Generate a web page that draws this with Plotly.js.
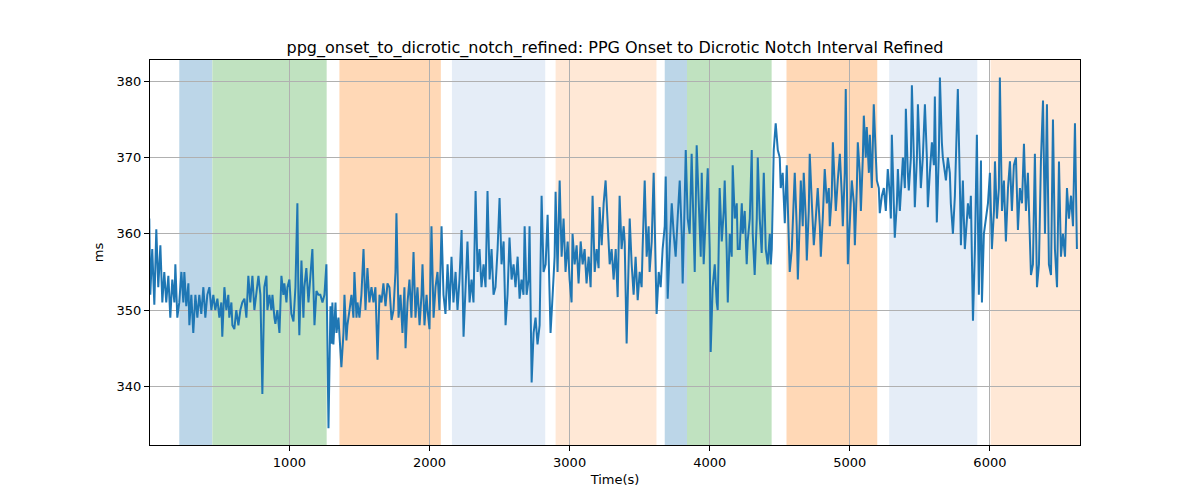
<!DOCTYPE html>
<html>
<head>
<meta charset="utf-8">
<script src="https://cdn.plot.ly/plotly-3.0.1.min.js"></script>
<style>
  html, body { margin: 0; padding: 0; background: #fff; }
  #chart { width: 1200px; height: 500px; }
</style>
</head>
<body>
<div id="chart"></div>
<script>
// Sample times (s)
const time = [
    0, 7, 21, 36, 50, 64, 79, 93, 107, 121, 136, 150, 164, 179, 186, 200, 214, 229, 243, 250,
    264, 279, 286, 300, 314, 329, 343, 357, 371, 386, 400, 414, 429, 443, 457, 471, 486, 500, 514, 521,
    536, 550, 564, 571, 586, 593, 607, 621, 636, 650, 664, 679, 693, 707, 721, 736, 750, 764, 779, 793,
    807, 821, 836, 843,
    857, 871, 879, 893, 900, 914, 929, 943, 957, 964, 979, 986, 1000, 1014, 1029, 1043, 1057, 1064, 1071, 1086,
    1100, 1107, 1121, 1136, 1150, 1164, 1179, 1193, 1207, 1221, 1236, 1250, 1264, 1271, 1279, 1293, 1300, 1307, 1314, 1329,
    1336, 1350, 1364, 1371, 1386, 1393, 1407, 1414, 1429, 1443, 1457, 1464, 1479, 1486, 1500, 1514, 1529, 1543, 1557, 1571,
    1586, 1600, 1614, 1629, 1643, 1657, 1671, 1686, 1700,
    1714, 1729, 1743, 1757, 1764, 1779, 1793, 1807, 1821, 1829, 1843, 1857, 1871, 1886, 1900, 1914, 1929, 1943, 1950, 1964,
    1979, 1986, 2000, 2014, 2029, 2043, 2057, 2071, 2086, 2100, 2114, 2129, 2143, 2157, 2171, 2186, 2200, 2214, 2229, 2243,
    2257, 2271, 2286, 2300, 2314, 2329, 2343, 2357, 2371, 2386, 2400, 2414, 2429, 2443, 2457, 2471, 2486, 2500, 2514, 2529,
    2543, 2557,
    2571, 2586, 2600, 2614, 2629, 2643, 2657, 2671, 2679, 2693, 2707, 2714, 2729, 2743, 2757, 2771, 2786, 2800, 2814, 2829,
    2843, 2857, 2864, 2879, 2893, 2900, 2914, 2929, 2943, 2957, 2971, 2986, 3000, 3014, 3021, 3036, 3050, 3064, 3079, 3093,
    3107, 3121, 3136, 3150, 3164, 3179, 3193, 3207, 3214, 3229, 3243, 3257, 3271, 3286, 3300, 3314, 3329, 3343, 3357, 3371,
    3386, 3393, 3407, 3421,
    3429, 3443, 3457, 3471, 3486, 3500, 3514, 3521, 3536, 3550, 3564, 3571, 3586, 3600, 3614, 3621, 3636, 3650, 3664, 3679,
    3686, 3700, 3714, 3729, 3743, 3757, 3771, 3786, 3800, 3807, 3821, 3829, 3843, 3857, 3871, 3886, 3893, 3907, 3921, 3936,
    3943, 3957, 3971, 3986, 4000, 4007, 4021, 4036, 4050, 4057, 4071, 4086, 4100, 4107, 4121, 4129, 4143, 4157, 4164, 4179,
    4193, 4200, 4214, 4229, 4236, 4250, 4264, 4271,
    4286, 4300, 4307, 4321, 4336, 4343, 4357, 4371, 4386, 4400, 4414, 4429, 4436, 4443, 4457, 4471, 4486, 4500, 4507, 4521,
    4536, 4550, 4557, 4571, 4586, 4593, 4607, 4621, 4629, 4643, 4650, 4664, 4671, 4686, 4693, 4707, 4714, 4729, 4743, 4757,
    4771, 4786, 4793, 4807, 4821, 4836, 4850, 4857, 4871, 4879, 4893, 4900, 4914, 4929, 4943, 4950, 4964, 4971, 4986, 5000,
    5014, 5029, 5036, 5050, 5057, 5071, 5079, 5093, 5100, 5114, 5121, 5136, 5143,
    5157, 5171, 5186, 5193, 5207, 5214, 5229, 5243, 5257, 5271, 5286, 5293, 5300, 5314, 5321, 5336, 5343, 5357, 5371, 5379,
    5393, 5400, 5414, 5421, 5436, 5443, 5457, 5464, 5479, 5486, 5500, 5507, 5521, 5536, 5550, 5557, 5571, 5586, 5600, 5607,
    5614, 5621, 5636, 5643, 5657, 5664, 5679, 5686, 5700, 5714, 5721, 5736, 5750, 5757, 5764, 5771, 5786, 5793, 5800, 5807,
    5814, 5821, 5836, 5843, 5857, 5864, 5879, 5893, 5907, 5921, 5936, 5943, 5957, 5971, 5986, 6000,
    6014, 6029, 6036, 6050, 6064, 6071, 6086, 6100, 6114, 6129, 6143, 6157, 6171, 6186, 6200, 6214, 6229, 6243, 6257, 6271,
    6293, 6307, 6321, 6336, 6350, 6364, 6379, 6393, 6407, 6421, 6436, 6450, 6464, 6479, 6493, 6507, 6521, 6536, 6550, 6564,
    6579, 6593, 6607, 6621
];

// Onset to dicrotic notch interval (ms)
const interval = [
    362, 352, 358, 350.7, 360.6, 353, 358.5, 351, 355, 351, 354.5, 349, 354, 351, 356, 349, 351, 355, 351, 355,
    350.5, 353.5, 348, 352, 347, 352, 349, 352, 349.5, 353, 349, 352, 353, 350, 352, 350, 351.5, 349, 351, 346.5,
    353, 350, 352, 349, 351, 348, 347.5, 350, 348, 350, 351, 351.5, 349, 354.5, 351, 354.5, 350, 352, 354.5, 352,
    339, 353, 354.5, 350,
    352, 350, 352, 349, 348.2, 350, 347, 354.5, 352, 353.5, 351, 353, 354, 349.5, 348.5, 353, 364, 352, 346.7, 356.5,
    349, 353, 355.5, 351, 355, 358, 348, 352.5, 352, 352, 351, 352, 356, 346, 334.5, 350.5, 345.6, 351, 345.5, 351,
    347, 349, 345, 342.5, 347, 352, 346, 348, 350, 352, 349, 355, 349, 351, 349, 352, 358, 350, 355.5, 351,
    353, 351, 353, 343.5, 352, 351, 353.5, 350.5, 353.5,
    353, 348.7, 350, 355, 362.7, 349, 352, 347, 353, 345, 351, 354, 349, 357.6, 349, 353, 348, 352, 356, 348,
    352, 350, 347.5, 361, 349, 353, 355, 350, 361, 352, 349.5, 356, 350, 357, 351, 355, 350, 354, 360.5, 346.5,
    352, 359, 351, 354, 351, 365.6, 355, 358, 353, 356, 353, 365.6, 354, 358, 352, 353, 358, 364.7, 356, 359,
    348, 352,
    359.5, 354, 356, 353, 357, 351.5, 354, 352, 361, 352, 354, 361, 340.5, 347, 349, 345.5, 348, 365, 355, 356,
    362.5, 354, 347, 352, 357, 365.5, 355, 367, 357, 362, 355, 359, 354, 351, 360, 356, 358.5, 353.5, 359, 356,
    358, 353.5, 357, 353, 365, 355, 358, 355.5, 363.5, 358.5, 364, 367, 362, 356, 358, 354, 358, 351.7, 365, 358,
    361, 359, 345.6, 355,
    362, 356, 352, 357, 351.3, 355, 353, 358, 367, 357, 361, 355, 359, 368, 356, 349.5, 355, 353, 358, 361,
    367.5, 351.5, 358, 364, 360, 357, 362, 367, 360, 353.5, 364, 371, 362, 360, 370.5, 362, 355, 371.6, 364, 357,
    368, 356, 362, 368.6, 358, 344.5, 353, 356, 351, 350, 366, 359, 363, 367, 358, 351, 360, 357, 369, 362,
    364, 358, 358, 364, 360, 363, 356, 359,
    362, 371, 360, 354.6, 362, 370, 362, 357.5, 368, 358, 356, 360, 356, 358, 371, 374.5, 371, 370, 366, 368,
    361.4, 369, 364, 355, 358, 362, 368, 361, 354, 362, 367, 361, 368, 362, 356.5, 363, 370.5, 364, 358.5, 362,
    366, 361, 357, 362, 368.5, 364, 366, 361, 365, 372, 366, 363, 367, 370.5, 365, 361, 368, 379, 356, 362,
    367, 364, 358.5, 366, 372, 368, 363, 370, 375.5, 370, 374, 368, 373,
    366, 377, 370, 367, 366, 362.7, 365, 366, 363, 368.5, 365, 362, 373, 365, 359.5, 364, 368.5, 363, 367, 370,
    366, 376.4, 368, 365.7, 370, 379.5, 370, 363.5, 370, 377, 370, 366, 370, 377, 370, 363.5, 368, 372, 369, 378,
    370, 361.5, 371, 380.5, 372, 370, 368, 367, 370, 368, 364, 360, 365, 371, 374, 379, 366, 358.5, 363, 367,
    362, 358, 362, 364, 362, 365, 348.6, 358, 373, 352, 369.6, 351, 360, 362, 364, 368,
    358, 363, 369.5, 362, 366, 380.5, 363, 367, 359, 366, 369.5, 363, 369, 370, 360.5, 366, 364, 371.8, 363, 368,
    354.6, 356, 370.5, 353, 356, 369.5, 377.5, 360, 377, 356, 354.6, 375, 358, 353, 369.5, 357, 360, 357, 366, 362,
    365, 361, 374.5, 358
];

// Shaded segments (start, end in s)
const spanStart = [214, 450, 1357, 2160, 2900, 3679, 3838, 4548, 5281, 6005];
const spanEnd   = [450, 1266, 2081, 2826, 3620, 3838, 4442, 5196, 5910, 6650];
const spanColor = ['#bcd6e8', '#c0e2c0', '#ffd8b6', '#e5edf7', '#ffe8d6',
                   '#bcd6e8', '#c0e2c0', '#ffd8b6', '#e5edf7', '#ffe8d6'];

let shapes = [];
for (let i in spanStart) {
    shapes.push({
        type: 'rect',
        xref: 'x',
        yref: 'paper',
        x0: spanStart[i],
        x1: spanEnd[i],
        y0: 0,
        y1: 1,
        fillcolor: spanColor[i],
        line: {width: 0},
        layer: 'below'
    });
}

let trace = {
    x: time,
    y: interval,
    type: 'scatter',
    mode: 'lines',
    line: {color: '#1f77b4', width: 2},
    hoverinfo: 'skip'
};

let axisStyle = {
    showgrid: true,
    gridcolor: '#b0b0b0',
    gridwidth: 1,
    zeroline: false,
    showline: true,
    mirror: true,
    linecolor: '#000',
    linewidth: 1,
    ticks: 'outside',
    ticklen: 5,
    tickcolor: '#000',
    tickfont: {family: 'DejaVu Sans', size: 13, color: '#000'}
};

let layout = {
    width: 1200,
    height: 500,
    paper_bgcolor: '#fff',
    plot_bgcolor: '#fff',
    showlegend: false,
    shapes: shapes,
    margin: {l: 150, r: 120, t: 60, b: 55},
    title: {
        text: 'ppg_onset_to_dicrotic_notch_refined: PPG Onset to Dicrotic Notch Interval Refined',
        font: {family: 'DejaVu Sans', size: 16, color: '#000'},
        x: 0.5125,
        xanchor: 'center',
        y: 0.905,
        yanchor: 'middle'
    },
    xaxis: Object.assign({}, axisStyle, {
        range: [5, 6643],
        tickvals: [1000, 2000, 3000, 4000, 5000, 6000],
        title: {text: 'Time(s)', font: {family: 'DejaVu Sans', size: 13, color: '#000'}, standoff: 6}
    }),
    yaxis: Object.assign({}, axisStyle, {
        range: [332.3, 382.8],
        tickvals: [340, 350, 360, 370, 380],
        title: {text: 'ms', font: {family: 'DejaVu Sans', size: 13, color: '#000'}, standoff: 10}
    })
};

let config = {
    displayModeBar: false,
    responsive: false
};

Plotly.newPlot(document.getElementById('chart'), [trace], layout, config);
</script>
</body>
</html>
